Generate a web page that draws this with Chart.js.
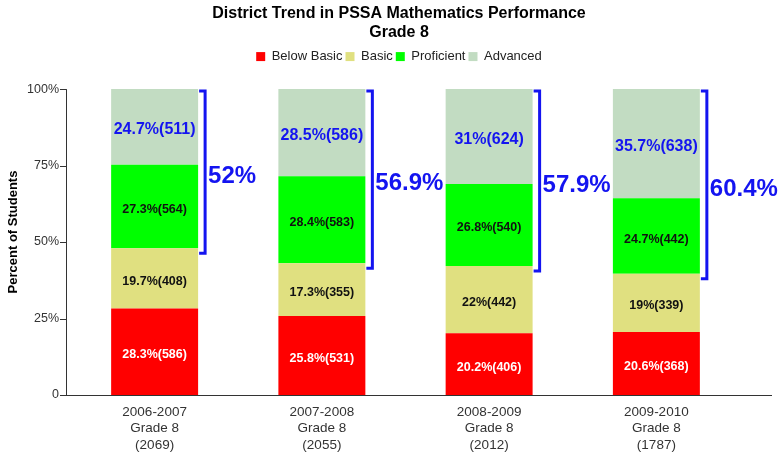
<!DOCTYPE html>
<html>
<head>
<meta charset="utf-8">
<script src="https://cdn.jsdelivr.net/npm/chart.js@4"></script>
<style>
  html, body { margin: 0; padding: 0; background: #ffffff; }
  #wrap { width: 778px; height: 457px; }
</style>
</head>
<body>
<div id="wrap"><canvas id="c" width="778" height="457"></canvas></div>
<script>
// ---- data ----
const years = ['2006-2007', '2007-2008', '2008-2009', '2009-2010'];
const totals = [2069, 2055, 2012, 1787];
const categories = years.map((y, i) => [y, 'Grade 8', '(' + totals[i] + ')']);

const belowBasicPct = [28.3, 25.8, 20.2, 20.6];
const basicPct      = [19.7, 17.3, 22, 19];
const proficientPct = [27.3, 28.4, 26.8, 24.7];
const advancedPct   = [24.7, 28.5, 31, 35.7];

const belowBasicN = [586, 531, 406, 368];
const basicN      = [408, 355, 442, 339];
const proficientN = [564, 583, 540, 442];
const advancedN   = [511, 586, 624, 638];

const profAdvLabels = ['52%', '56.9%', '57.9%', '60.4%'];
const yTicks = [0, 25, 50, 75, 100];
const yAxisTitle = 'Percent of Students';

const FONT = "'Liberation Sans', Arial, Helvetica, sans-serif";
const BLUE = '#1414f0';

const series = [
  { label: 'Below Basic', data: belowBasicPct, counts: belowBasicN, backgroundColor: '#ff0000', textColor: '#ffffff', size: 12.5 },
  { label: 'Basic',       data: basicPct,      counts: basicN,      backgroundColor: '#e0e080', textColor: '#111111', size: 12.5 },
  { label: 'Proficient',  data: proficientPct, counts: proficientN, backgroundColor: '#00ff00', textColor: '#111111', size: 12.5 },
  { label: 'Advanced',    data: advancedPct,   counts: advancedN,   backgroundColor: '#c2dcc2', textColor: BLUE,      size: 16 }
];

const overlay = {
  id: 'overlay',
  afterDraw(chart) {
    const ctx = chart.ctx;
    const ys = chart.scales.y;
    const ca = chart.chartArea;
    const axisX = ca.left - 5;
    ctx.save();
    // axes
    ctx.strokeStyle = '#333333';
    ctx.lineWidth = 1;
    ctx.beginPath();
    ctx.moveTo(axisX + 0.5, ys.getPixelForValue(100));
    ctx.lineTo(axisX + 0.5, ys.getPixelForValue(0) + 0.5);
    ctx.moveTo(axisX, Math.round(ys.getPixelForValue(0)) + 0.5);
    ctx.lineTo(772, Math.round(ys.getPixelForValue(0)) + 0.5);
    yTicks.forEach(v => {
      const py = Math.round(ys.getPixelForValue(v)) + 0.5;
      ctx.moveTo(axisX - 6, py);
      ctx.lineTo(axisX, py);
    });
    ctx.stroke();

    // y axis title
    ctx.save();
    ctx.translate(13, 232);
    ctx.rotate(-Math.PI / 2);
    ctx.fillStyle = '#000000';
    ctx.font = 'bold 13px ' + FONT;
    ctx.textAlign = 'center';
    ctx.textBaseline = 'middle';
    ctx.fillText(yAxisTitle, 0, 0);
    ctx.restore();

    // segment labels
    ctx.textAlign = 'center';
    ctx.textBaseline = 'middle';
    chart.data.datasets.forEach((ds, di) => {
      const meta = chart.getDatasetMeta(di);
      ctx.fillStyle = ds.textColor;
      ctx.font = 'bold ' + ds.size + 'px ' + FONT;
      meta.data.forEach((bar, i) => {
        const cy = (bar.y + bar.base) / 2 + 3;
        ctx.fillText(ds.data[i] + '%(' + ds.counts[i] + ')', bar.x, cy);
      });
    });

    // brackets for proficient + advanced
    const profMeta = chart.getDatasetMeta(2);
    ctx.strokeStyle = BLUE;
    ctx.fillStyle = BLUE;
    ctx.lineWidth = 3;
    ctx.font = 'bold 24px ' + FONT;
    ctx.textAlign = 'left';
    profMeta.data.forEach((bar, i) => {
      const right = bar.x + bar.width / 2;
      const xv = right + 7;
      const top = ys.getPixelForValue(100) + 2;
      const bottom = bar.base + 5;
      ctx.beginPath();
      ctx.moveTo(right + 1, top);
      ctx.lineTo(xv, top);
      ctx.lineTo(xv, bottom);
      ctx.lineTo(right + 1, bottom);
      ctx.stroke();
      ctx.fillText(profAdvLabels[i], xv + 3, (top + bottom) / 2 + 4);
    });
    ctx.restore();
  }
};

new Chart(document.getElementById('c'), {
  type: 'bar',
  data: {
    labels: categories,
    datasets: series.map(s => ({
      label: s.label,
      data: s.data,
      counts: s.counts,
      textColor: s.textColor,
      size: s.size,
      backgroundColor: s.backgroundColor,
      borderWidth: 0,
      categoryPercentage: 1.0,
      barPercentage: 0.52
    }))
  },
  options: {
    responsive: false,
    animation: false,
    layout: { padding: { left: 20, right: 0, top: 0, bottom: 0 } },
    plugins: {
      title: {
        display: true,
        text: ['District Trend in PSSA Mathematics Performance', 'Grade 8'],
        color: '#000000',
        font: { family: FONT, size: 16, weight: 'bold', lineHeight: 1.19 },
        padding: { top: 4, bottom: 5 }
      },
      legend: {
        display: true,
        position: 'top',
        labels: {
          color: '#222222',
          font: { family: FONT, size: 13 },
          boxWidth: 9,
          boxHeight: 9,
          padding: 3
        }
      },
      subtitle: {
        display: true,
        text: ' ',
        weight: 500,
        position: 'top',
        font: { size: 1, lineHeight: 1 },
        padding: { top: 0, bottom: 15 }
      },
      tooltip: { enabled: false }
    },
    scales: {
      x: {
        stacked: true,
        grid: { display: false, drawTicks: false },
        border: { display: false },
        ticks: {
          color: '#333333',
          font: { family: FONT, size: 13.5, lineHeight: 1.22 },
          padding: 9,
          maxRotation: 0,
          autoSkip: false
        },
        afterFit(scale) { scale.height = 62; }
      },
      y: {
        stacked: true,
        min: 0,
        max: 100,
        grid: { display: false, drawTicks: false },
        border: { display: false },
        afterBuildTicks(scale) { scale.ticks = yTicks.map(v => ({ value: v })); },
        ticks: {
          color: '#333333',
          font: { family: FONT, size: 12.5 },
          padding: 12,
          callback: v => (v === 0 ? '0' : v + '%')
        },
        title: { display: false },
        afterFit(scale) { scale.width = 51; }
      },
      spacer: {
        type: 'linear',
        position: 'right',
        display: true,
        grid: { display: false, drawTicks: false },
        border: { display: false },
        ticks: { display: false },
        afterFit(scale) { scale.width = 38; }
      }
    }
  },
  plugins: [overlay]
});
</script>
</body>
</html>
